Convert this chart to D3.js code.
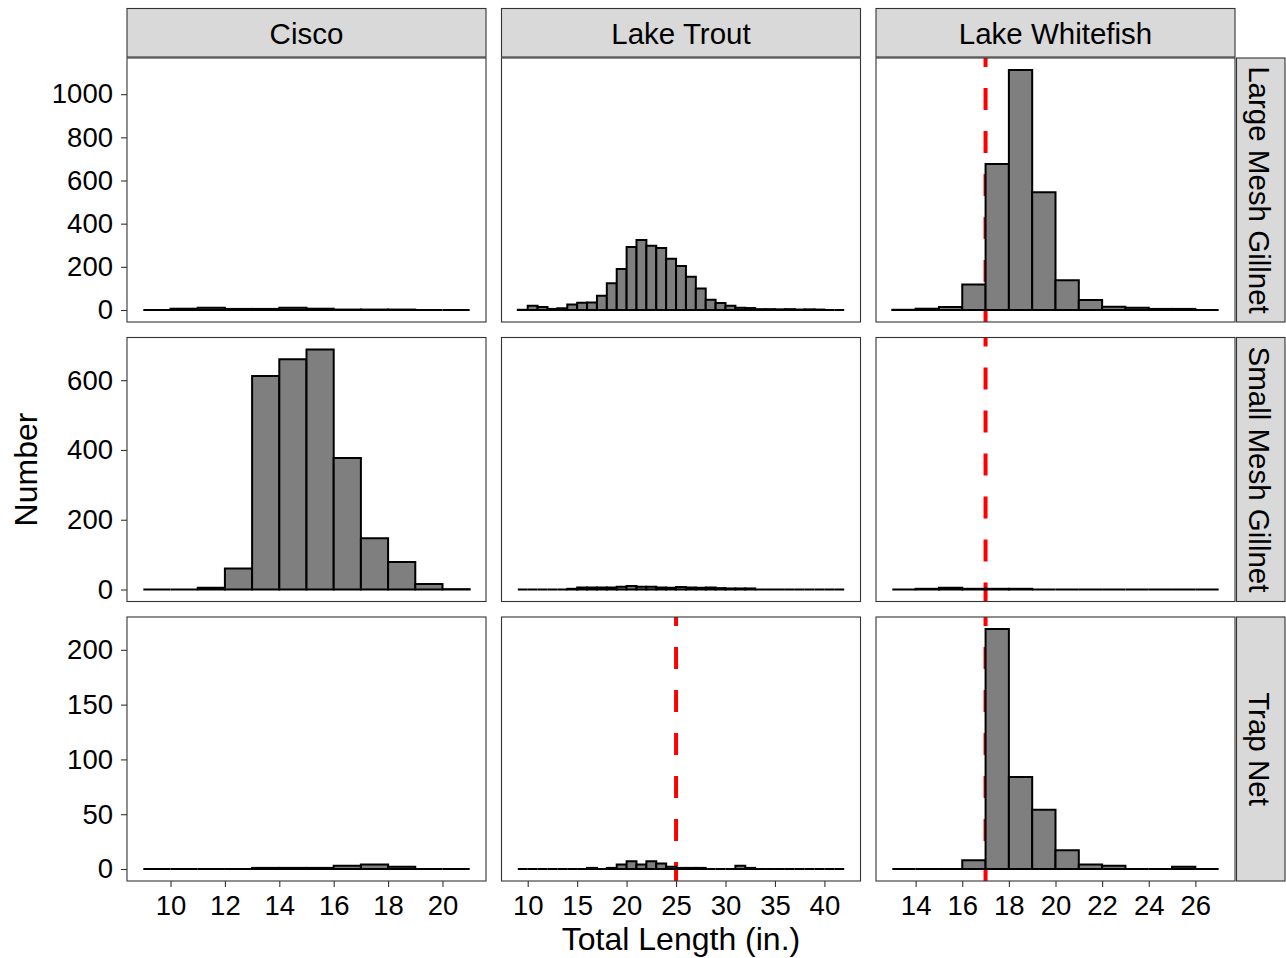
<!DOCTYPE html>
<html>
<head>
<meta charset="utf-8">
<script src="https://cdn.jsdelivr.net/npm/d3@7"></script>
<style>
  body { margin: 0; background: #fff; }
  text { font-family: "Liberation Sans", Arial, sans-serif; fill: #000; }
</style>
</head>
<body>
<svg id="chart" width="1286" height="958"></svg>
<script>
const species = ['Cisco', 'Lake Trout', 'Lake Whitefish'];
const gears = ['Large Mesh Gillnet', 'Small Mesh Gillnet', 'Trap Net'];

// lower edge of each 1-inch bin
const ciscoBins = [9, 10, 11, 12, 13, 14, 15, 16, 17, 18, 19, 20];
const troutBins = [9, 10, 11, 12, 13, 14, 15, 16, 17, 18, 19, 20, 21, 22, 23, 24, 25,
    26, 27, 28, 29, 30, 31, 32, 33, 34, 35, 36, 37, 38, 39, 40, 41];
const whitefishBins = [13, 14, 15, 16, 17, 18, 19, 20, 21, 22, 23, 24, 25, 26];

// counts per bin
const ciscoLarge = [0, 6, 11, 5, 5, 11, 6, 2, 2, 2, 0, 0];
const ciscoSmall = [0, 0, 5, 60, 612, 660, 688, 377, 147, 79, 16, 1];
const ciscoTrap = [0, 0, 0, 0, 1, 1, 1, 3, 4, 2, 0, 0];

const troutLarge = [1, 20, 14, 5, 8, 25, 34, 35, 66, 124, 190, 292, 324, 298, 287, 238, 204,
    154, 100, 48, 32, 20, 11, 9, 4, 4, 3, 4, 2, 3, 2, 0, 0];
const troutSmall = [0, 0, 0, 0, 0, 2, 6, 6, 6, 6, 8, 10, 8, 8, 6, 5, 7,
    6, 5, 6, 4, 3, 3, 3, 0, 0, 0, 0, 0, 0, 0, 0, 0];
const troutTrap = [0, 0, 0, 0, 0, 0, 0, 1, 0, 1, 4, 7, 4, 7, 5, 2, 1,
    1, 1, 0, 0, 0, 3, 1, 0, 0, 0, 0, 0, 0, 0, 0, 0];

const whitefishLarge = [1, 6, 14, 118, 677, 1112, 545, 138, 46, 15, 11, 5, 5, 0];
const whitefishSmall = [0, 2, 5, 2, 2, 2, 0, 0, 0, 0, 0, 0, 0, 0];
const whitefishTrap = [0, 0, 0, 8, 219, 84, 54, 17, 4, 3, 0, 0, 2, 0];

const xTicks = [[10, 12, 14, 16, 18, 20], [10, 15, 20, 25, 30, 35, 40], [14, 16, 18, 20, 22, 24, 26]];
const yTicks = [[0, 200, 400, 600, 800, 1000], [0, 200, 400, 600], [0, 50, 100, 150, 200]];

// minimum length reference lines
const cutSpecies = ['Lake Whitefish', 'Lake Whitefish', 'Lake Whitefish', 'Lake Trout'];
const cutGear = ['Large Mesh Gillnet', 'Small Mesh Gillnet', 'Trap Net', 'Trap Net'];
const cutLength = [17, 17, 17, 25];

const bins = [ciscoBins, troutBins, whitefishBins];
const counts = [
    [ciscoLarge, ciscoSmall, ciscoTrap],
    [troutLarge, troutSmall, troutTrap],
    [whitefishLarge, whitefishSmall, whitefishTrap]
];

// layout
const panelLeft = 127, panelTop = 58, panelW = 359, panelH = 264, gap = 15.5;
const stripH = 48.5, stripGap = 1;

const svg = d3.select('#chart');

const colX = species.map((s, i) => panelLeft + i * (panelW + gap));
const rowY = gears.map((g, i) => panelTop + i * (panelH + gap));

const xScales = species.map((s, i) => {
    const lo = bins[i][0], hi = bins[i][bins[i].length - 1] + 1;
    const pad = (hi - lo) * 0.05;
    return d3.scaleLinear().domain([lo - pad, hi + pad]).range([colX[i], colX[i] + panelW]);
});

const yScales = gears.map((g, j) => {
    const mx = d3.max(species.map((s, i) => d3.max(counts[i][j])));
    const pad = mx * 0.05;
    return d3.scaleLinear().domain([-pad, mx + pad]).range([rowY[j] + panelH, rowY[j]]);
});

const defs = svg.append('defs');

species.forEach((s, i) => {
    gears.forEach((g, j) => {
        const x = xScales[i], y = yScales[j];
        const id = `clip-${i}-${j}`;
        defs.append('clipPath').attr('id', id)
            .append('rect')
            .attr('x', colX[i]).attr('y', rowY[j])
            .attr('width', panelW).attr('height', panelH);

        const panel = svg.append('g');
        panel.append('rect')
            .attr('x', colX[i]).attr('y', rowY[j])
            .attr('width', panelW).attr('height', panelH)
            .attr('fill', '#fff');

        const lines = cutLength.filter((c, k) => cutSpecies[k] === s && cutGear[k] === g);
        panel.selectAll('line.cut')
            .data(lines)
            .enter().append('line')
            .attr('clip-path', `url(#${id})`)
            .attr('x1', d => x(d)).attr('x2', d => x(d))
            .attr('y1', rowY[j] + panelH + 3).attr('y2', rowY[j])
            .attr('stroke', '#ff0000')
            .attr('stroke-width', 4)
            .attr('stroke-dasharray', '22,21');

        const data = bins[i].map((b, k) => ({ b: b, n: counts[i][j][k] }));
        panel.selectAll('path.bar')
            .data(data)
            .enter().append('path')
            .attr('d', d => `M${x(d.b)},${y(0)}V${y(d.n)}H${x(d.b + 1)}V${y(0)}Z`)
            .attr('fill', '#7f7f7f')
            .attr('stroke', '#000')
            .attr('stroke-width', 2)
            .attr('stroke-linejoin', 'miter');

        panel.append('rect')
            .attr('x', colX[i]).attr('y', rowY[j])
            .attr('width', panelW).attr('height', panelH)
            .attr('fill', 'none')
            .attr('stroke', '#333')
            .attr('stroke-width', 1.1);
    });
});

// x axes
species.forEach((s, i) => {
    const ax = svg.append('g')
        .attr('transform', `translate(0,${rowY[2] + panelH})`)
        .call(d3.axisBottom(xScales[i]).tickValues(xTicks[i]).tickSize(6).tickPadding(8)
            .tickFormat(d3.format('d')));
    ax.select('.domain').remove();
    ax.selectAll('.tick line').attr('stroke', '#333').attr('stroke-width', 1.1);
    ax.selectAll('.tick text').style('font-size', '27.5px').attr('fill', '#000');
});

// y axes
gears.forEach((g, j) => {
    const ax = svg.append('g')
        .attr('transform', `translate(${panelLeft},0)`)
        .call(d3.axisLeft(yScales[j]).tickValues(yTicks[j]).tickSize(6).tickPadding(8)
            .tickFormat(d3.format('d')));
    ax.select('.domain').remove();
    ax.selectAll('.tick line').attr('stroke', '#333').attr('stroke-width', 1.1);
    ax.selectAll('.tick text').style('font-size', '27.5px').attr('fill', '#000');
});

// top strips
species.forEach((s, i) => {
    svg.append('rect')
        .attr('x', colX[i]).attr('y', panelTop - stripGap - stripH)
        .attr('width', panelW).attr('height', stripH)
        .attr('fill', '#d9d9d9').attr('stroke', '#333').attr('stroke-width', 1.1);
    svg.append('text')
        .attr('x', colX[i] + panelW / 2)
        .attr('y', panelTop - stripGap - stripH / 2 + 1)
        .attr('text-anchor', 'middle')
        .attr('dominant-baseline', 'central')
        .style('font-size', '29.5px')
        .text(s);
});

// right strips
const stripX = colX[2] + panelW + 1.5;
gears.forEach((g, j) => {
    svg.append('rect')
        .attr('x', stripX).attr('y', rowY[j])
        .attr('width', stripH).attr('height', panelH)
        .attr('fill', '#d9d9d9').attr('stroke', '#333').attr('stroke-width', 1.1);
    svg.append('text')
        .attr('transform', `translate(${stripX + stripH / 2 - 1},${rowY[j] + panelH / 2}) rotate(90)`)
        .attr('text-anchor', 'middle')
        .attr('dominant-baseline', 'central')
        .style('font-size', '29.5px')
        .text(g);
});

// axis titles
svg.append('text')
    .attr('x', (panelLeft + colX[2] + panelW) / 2)
    .attr('y', 950)
    .attr('text-anchor', 'middle')
    .style('font-size', '32px')
    .text('Total Length (in.)');

svg.append('text')
    .attr('transform', `translate(37,${panelTop + (3 * panelH + 2 * gap) / 2}) rotate(-90)`)
    .attr('text-anchor', 'middle')
    .style('font-size', '32px')
    .text('Number');
</script>
</body>
</html>
